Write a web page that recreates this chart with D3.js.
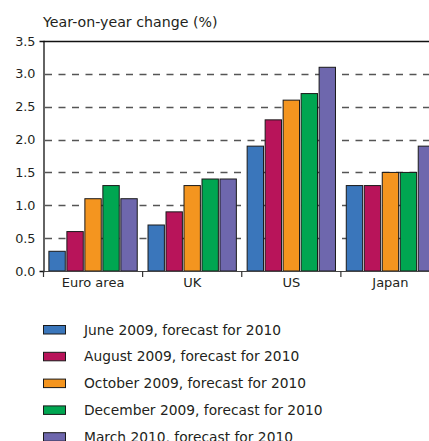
<!DOCTYPE html>
<html><head><meta charset="utf-8">
<script src="https://cdn.jsdelivr.net/npm/d3@7"></script>
<style>body{margin:0;background:#fff;overflow:hidden}svg{display:block}text{font-family:"DejaVu Sans",sans-serif;fill:#231f20}</style>
</head><body><svg id="c" width="429" height="441"></svg>
<script>
const categories = ["Euro area", "UK", "US", "Japan"];
const seriesNames = ["June 2009, forecast for 2010","August 2009, forecast for 2010","October 2009, forecast for 2010","December 2009, forecast for 2010","March 2010, forecast for 2010"];
const june2009 = [0.3, 0.7, 1.9, 1.3];
const aug2009 = [0.6, 0.9, 2.3, 1.3];
const oct2009 = [1.1, 1.3, 2.6, 1.5];
const dec2009 = [1.3, 1.4, 2.7, 1.5];
const mar2010 = [1.1, 1.4, 3.1, 1.9];
const yTicks = [0, 0.5, 1, 1.5, 2, 2.5, 3, 3.5];
const colors = ["#3a76bb", "#b8145a", "#f4951f", "#00a651", "#6e67ad"];
const seriesVals = [june2009, aug2009, oct2009, dec2009, mar2010];

const svg = d3.select("#c");
const mLeft = 43.5, mRight = 440, mTop = 41, mBottom = 271;
const x = d3.scaleBand().domain(categories).range([mLeft, mRight]).paddingInner(0).paddingOuter(0);
const x1 = d3.scaleBand().domain(d3.range(5)).range([0, x.bandwidth()]).paddingInner(0.09).paddingOuter(0.3);
const y = d3.scaleLinear().domain([0, 3.5]).range([mBottom, mTop]);

// grid
svg.append("g").selectAll("line").data(yTicks.filter(t => t > 0 && t < 3.5)).join("line")
  .attr("x1", mLeft).attr("x2", 429).attr("y1", d => Math.round(y(d)) + 0.5).attr("y2", d => Math.round(y(d)) + 0.5)
  .attr("stroke", "#555").attr("stroke-width", 1.4).attr("stroke-dasharray", "7,6.5").attr("stroke-dashoffset", -1.5);
// top line
svg.append("line").attr("x1", mLeft).attr("x2", 429).attr("y1", mTop + 0.5).attr("y2", mTop + 0.5).attr("stroke", "#111").attr("stroke-width", 1.3);

// bars
const g = svg.append("g");
categories.forEach((c, ci) => {
  seriesVals.forEach((s, si) => {
    g.append("rect")
      .attr("x", x(c) + x1(si)).attr("width", x1.bandwidth())
      .attr("y", y(s[ci])).attr("height", y(0) - y(s[ci]))
      .attr("fill", colors[si]).attr("stroke", "#1a1a1a").attr("stroke-width", 1);
  });
});

// y axis
const ya = d3.axisLeft(y).tickValues(yTicks).tickFormat(d3.format(".1f")).tickSize(4).tickPadding(4);
const yg = svg.append("g").attr("transform", `translate(${mLeft},0)`).call(ya);
yg.select(".domain").attr("stroke", "#111").attr("stroke-width", 1.3);
yg.selectAll(".tick line").remove();
yg.selectAll("text").attr("font-size", 12.8).attr("font-family", "DejaVu Sans").attr("fill", "#231f20");

// x axis
svg.append("line").attr("x1", mLeft).attr("x2", 429).attr("y1", mBottom + 0.5).attr("y2", mBottom + 0.5).attr("stroke", "#444").attr("stroke-width", 1);
const xg = svg.append("g");
x.domain().forEach(c => {
  xg.append("line").attr("x1", x(c)).attr("x2", x(c)).attr("y1", mBottom).attr("y2", mBottom + 6).attr("stroke", "#333").attr("stroke-width", 1.2);
  xg.append("text").attr("x", x(c) + x.bandwidth() / 2).attr("y", mBottom + 16).attr("text-anchor", "middle").attr("font-size", 13).text(c);
});

// title
svg.append("text").attr("x", 43).attr("y", 27).attr("font-size", 14.2).text("Year-on-year change (%)");

// legend
const lg = svg.append("g");
seriesNames.forEach((n, i) => {
  const yy = 325 + i * 26.8;
  lg.append("rect").attr("x", 43.5).attr("y", yy + 0.5).attr("width", 22).attr("height", 8.5).attr("fill", colors[i]).attr("stroke", "#1a1a1a").attr("stroke-width", 1);
  lg.append("text").attr("x", 84).attr("y", yy + 9.5).attr("font-size", 13.8).text(n);
});
</script></body></html>
